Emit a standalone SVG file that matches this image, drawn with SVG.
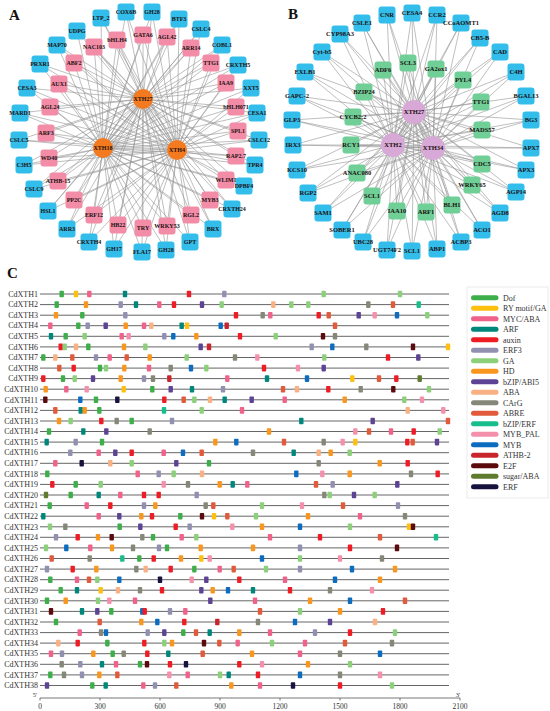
<svg xmlns="http://www.w3.org/2000/svg" xmlns:xlink="http://www.w3.org/1999/xlink" width="550" height="711" viewBox="0 0 550 711">
<style>
.pl{font-family:"Liberation Serif",serif;font-weight:bold;font-size:15px;fill:#111}
.ed{fill:none;stroke:#939393;stroke-width:0.6}
.nb{fill:#33bdea}.np{fill:#f38da7}.ng{fill:#6fcf97}
.hubA{fill:#f47a20}.hubB{fill:#d8a9d6}
.nt{font-family:"Liberation Serif",serif;font-weight:bold;font-size:6px;fill:#1a1010;text-anchor:middle}
.nt2{font-family:"Liberation Serif",serif;font-weight:bold;font-size:6.5px;fill:#1a1010;text-anchor:middle}
.ln{stroke:#555;stroke-width:0.9}
.rl{font-family:"Liberation Serif",serif;font-size:8px;fill:#333;text-anchor:end}
.lg{font-family:"Liberation Serif",serif;font-size:8px;fill:#333}
.ax{font-family:"Liberation Serif",serif;font-size:7.5px;fill:#333;text-anchor:middle}
.dof{fill:#3dae4a}.ry{fill:#fdc010}.myc{fill:#f0628a}.arf{fill:#00877c}.aux{fill:#ee1c25}.erf3{fill:#9290b1}.ga{fill:#8dd07b}.hd{fill:#f8961e}.abi{fill:#5c4393}.aba{fill:#f9b184}.carg{fill:#858878}.abre{fill:#e05a3b}.berf{fill:#18bd8c}.pal{fill:#f590ac}.myb{fill:#0c6dc0}.athb{fill:#c9252c}.e2f{fill:#5b0b0e}.sug{fill:#5f7b2e}.erf{fill:#17133f}
</style>
<defs>
<rect id="m" x="-2.2" y="-3.3" width="4.4" height="6.6" rx="0.8"/>
<rect id="bx" x="-8.5" y="-8.5" width="17" height="17" rx="3"/>
</defs>
<rect width="550" height="711" fill="#fff"/>
<text class="pl" x="9" y="20">A</text>
<text class="pl" x="288" y="19">B</text>
<text class="pl" x="7" y="278">C</text>

<g id="connectors">
<path class="ed" d="M143 99 103 148 177 150 143 99
M143 99 126 12M143 99 152 12M143 99 101 18M143 99 179 19M143 99 201 29M143 99 77 31M143 99 143 35M143 99 167 37M143 99 117 40M143 99 57 45M143 99 222 45M143 99 94 47M143 99 191 48M143 99 74 63M143 99 211 63M143 99 40 64M143 99 238 65M143 99 226 83M143 99 59 84M143 99 27 88M143 99 251 88M143 99 50 107M143 99 236 107M143 99 20 113M143 99 257 113M143 99 238 131M143 99 46 133M143 99 19 140M143 99 259 140M143 99 236 156M143 99 49 158M143 99 24 165M143 99 255 165M143 99 226 180M143 99 58 181M143 99 244 186M143 99 34 189M143 99 210 200M143 99 74 200M143 99 232 209M143 99 48 211M143 99 94 215M143 99 191 215M143 99 118 225M143 99 167 226M143 99 143 228M143 99 67 229M143 99 213 229M143 99 89 242M143 99 190 242M143 99 114 249M143 99 166 250M143 99 142 252
M103 148 126 12M103 148 152 12M103 148 101 18M103 148 179 19M103 148 201 29M103 148 77 31M103 148 143 35M103 148 167 37M103 148 117 40M103 148 57 45M103 148 222 45M103 148 94 47M103 148 191 48M103 148 74 63M103 148 211 63M103 148 40 64M103 148 238 65M103 148 226 83M103 148 59 84M103 148 27 88M103 148 251 88M103 148 50 107M103 148 236 107M103 148 20 113M103 148 257 113M103 148 238 131M103 148 46 133M103 148 19 140M103 148 259 140M103 148 236 156M103 148 49 158M103 148 24 165M103 148 255 165M103 148 226 180M103 148 58 181M103 148 244 186M103 148 34 189M103 148 210 200M103 148 74 200M103 148 232 209M103 148 48 211M103 148 94 215M103 148 191 215M103 148 118 225M103 148 167 226M103 148 143 228M103 148 67 229M103 148 213 229M103 148 89 242M103 148 190 242M103 148 114 249M103 148 166 250M103 148 142 252
M177 150 126 12M177 150 152 12M177 150 101 18M177 150 179 19M177 150 201 29M177 150 77 31M177 150 143 35M177 150 167 37M177 150 117 40M177 150 57 45M177 150 222 45M177 150 94 47M177 150 191 48M177 150 74 63M177 150 211 63M177 150 40 64M177 150 238 65M177 150 226 83M177 150 59 84M177 150 27 88M177 150 251 88M177 150 50 107M177 150 236 107M177 150 20 113M177 150 257 113M177 150 238 131M177 150 46 133M177 150 19 140M177 150 259 140M177 150 236 156M177 150 49 158M177 150 24 165M177 150 255 165M177 150 226 180M177 150 58 181M177 150 244 186M177 150 34 189M177 150 210 200M177 150 74 200M177 150 232 209M177 150 48 211M177 150 94 215M177 150 191 215M177 150 118 225M177 150 167 226M177 150 143 228M177 150 67 229M177 150 213 229M177 150 89 242M177 150 190 242M177 150 114 249M177 150 166 250M177 150 142 252"/>
<path class="ed" d="M414 112 393 145 433 148 414 112
M414 112 412 13M414 112 387 15M414 112 437 15M414 112 362 23M414 112 461 23M414 112 340 34M414 112 480 38M414 112 322 52M414 112 500 52M414 112 408 63M414 112 436 69M414 112 383 70M414 112 305 72M414 112 516 72M414 112 463 80M414 112 364 92M414 112 297 96M414 112 526 96M414 112 481 102M414 112 353 117M414 112 292 120M414 112 531 120M414 112 482 130M414 112 293 145M414 112 351 145M414 112 531 148M414 112 482 164M414 112 297 170M414 112 526 170M414 112 357 173M414 112 472 185M414 112 516 192M414 112 308 193M414 112 372 196M414 112 452 205M414 112 397 211M414 112 426 212M414 112 500 213M414 112 323 213M414 112 342 230M414 112 482 230M414 112 363 242M414 112 461 242M414 112 437 249M414 112 387 250M414 112 412 251
M393 145 412 13M393 145 387 15M393 145 437 15M393 145 362 23M393 145 461 23M393 145 340 34M393 145 480 38M393 145 322 52M393 145 500 52M393 145 408 63M393 145 436 69M393 145 383 70M393 145 305 72M393 145 516 72M393 145 463 80M393 145 364 92M393 145 297 96M393 145 526 96M393 145 481 102M393 145 353 117M393 145 292 120M393 145 531 120M393 145 482 130M393 145 293 145M393 145 351 145M393 145 531 148M393 145 482 164M393 145 297 170M393 145 526 170M393 145 357 173M393 145 472 185M393 145 516 192M393 145 308 193M393 145 372 196M393 145 452 205M393 145 397 211M393 145 426 212M393 145 500 213M393 145 323 213M393 145 342 230M393 145 482 230M393 145 363 242M393 145 461 242M393 145 437 249M393 145 387 250M393 145 412 251
M433 148 412 13M433 148 387 15M433 148 437 15M433 148 362 23M433 148 461 23M433 148 340 34M433 148 480 38M433 148 322 52M433 148 500 52M433 148 408 63M433 148 436 69M433 148 383 70M433 148 305 72M433 148 516 72M433 148 463 80M433 148 364 92M433 148 297 96M433 148 526 96M433 148 481 102M433 148 353 117M433 148 292 120M433 148 531 120M433 148 482 130M433 148 293 145M433 148 351 145M433 148 531 148M433 148 482 164M433 148 297 170M433 148 526 170M433 148 357 173M433 148 472 185M433 148 516 192M433 148 308 193M433 148 372 196M433 148 452 205M433 148 397 211M433 148 426 212M433 148 500 213M433 148 323 213M433 148 342 230M433 148 482 230M433 148 363 242M433 148 461 242M433 148 437 249M433 148 387 250M433 148 412 251"/>
</g>

<g id="panelA-nodes">
<g id="a-COX6B" transform="translate(126,12)"><use href="#bx" class="nb"/><text class="nt" y="2">COX6B</text></g>
<g id="a-GH28t" transform="translate(152,12)"><use href="#bx" class="nb"/><text class="nt" y="2">GH28</text></g>
<g id="a-LTP2" transform="translate(101,18)"><use href="#bx" class="nb"/><text class="nt" y="2">LTP_2</text></g>
<g id="a-BTF3" transform="translate(179,19)"><use href="#bx" class="nb"/><text class="nt" y="2">BTF3</text></g>
<g id="a-CSLC4" transform="translate(201,29)"><use href="#bx" class="nb"/><text class="nt" y="2">CSLC4</text></g>
<g id="a-UDPG" transform="translate(77,31)"><use href="#bx" class="nb"/><text class="nt" y="2">UDPG</text></g>
<g id="a-GATA6" transform="translate(143,35)"><use href="#bx" class="np"/><text class="nt" y="2">GATA6</text></g>
<g id="a-AGL42" transform="translate(167,37)"><use href="#bx" class="np"/><text class="nt" y="2">AGL42</text></g>
<g id="a-bHLH4" transform="translate(117,40)"><use href="#bx" class="np"/><text class="nt" y="2">bHLH4</text></g>
<g id="a-MAP70" transform="translate(57,45)"><use href="#bx" class="nb"/><text class="nt" y="2">MAP70</text></g>
<g id="a-COBL1" transform="translate(222,45)"><use href="#bx" class="nb"/><text class="nt" y="2">COBL1</text></g>
<g id="a-NAC103" transform="translate(94,47)"><use href="#bx" class="np"/><text class="nt" y="2">NAC103</text></g>
<g id="a-ARR14" transform="translate(191,48)"><use href="#bx" class="np"/><text class="nt" y="2">ARR14</text></g>
<g id="a-ABF2" transform="translate(74,63)"><use href="#bx" class="np"/><text class="nt" y="2">ABF2</text></g>
<g id="a-TTG1" transform="translate(211,63)"><use href="#bx" class="np"/><text class="nt" y="2">TTG1</text></g>
<g id="a-PRXR1" transform="translate(40,64)"><use href="#bx" class="nb"/><text class="nt" y="2">PRXR1</text></g>
<g id="a-CRXTH5" transform="translate(238,65)"><use href="#bx" class="nb"/><text class="nt" y="2">CRXTH5</text></g>
<g id="a-IAA9" transform="translate(226,83)"><use href="#bx" class="np"/><text class="nt" y="2">IAA9</text></g>
<g id="a-AUX1" transform="translate(59,84)"><use href="#bx" class="np"/><text class="nt" y="2">AUX1</text></g>
<g id="a-CESA3" transform="translate(27,88)"><use href="#bx" class="nb"/><text class="nt" y="2">CESA3</text></g>
<g id="a-XXT5" transform="translate(251,88)"><use href="#bx" class="nb"/><text class="nt" y="2">XXT5</text></g>
<g id="a-AGL24" transform="translate(50,107)"><use href="#bx" class="np"/><text class="nt" y="2">AGL24</text></g>
<g id="a-bHLH071" transform="translate(236,107)"><use href="#bx" class="np"/><text class="nt" y="2">bHLH071</text></g>
<g id="a-MARD1" transform="translate(20,113)"><use href="#bx" class="nb"/><text class="nt" y="2">MARD1</text></g>
<g id="a-CESA1" transform="translate(257,113)"><use href="#bx" class="nb"/><text class="nt" y="2">CESA1</text></g>
<g id="a-SPL1" transform="translate(238,131)"><use href="#bx" class="np"/><text class="nt" y="2">SPL1</text></g>
<g id="a-ARF3" transform="translate(46,133)"><use href="#bx" class="np"/><text class="nt" y="2">ARF3</text></g>
<g id="a-CSLC5" transform="translate(19,140)"><use href="#bx" class="nb"/><text class="nt" y="2">CSLC5</text></g>
<g id="a-CSLC12" transform="translate(259,140)"><use href="#bx" class="nb"/><text class="nt" y="2">CSLC12</text></g>
<g id="a-RAP27" transform="translate(236,156)"><use href="#bx" class="np"/><text class="nt" y="2">RAP2.7</text></g>
<g id="a-WD40" transform="translate(49,158)"><use href="#bx" class="np"/><text class="nt" y="2">WD40</text></g>
<g id="a-C3H5" transform="translate(24,165)"><use href="#bx" class="nb"/><text class="nt" y="2">C3H5</text></g>
<g id="a-TPR4" transform="translate(255,165)"><use href="#bx" class="nb"/><text class="nt" y="2">TPR4</text></g>
<g id="a-WLIM1" transform="translate(226,180)"><use href="#bx" class="np"/><text class="nt" y="2">WLIM1</text></g>
<g id="a-ATHB15" transform="translate(58,181)"><use href="#bx" class="np"/><text class="nt" y="2">ATHB-15</text></g>
<g id="a-DPBF4" transform="translate(244,186)"><use href="#bx" class="nb"/><text class="nt" y="2">DPBF4</text></g>
<g id="a-CSLC9" transform="translate(34,189)"><use href="#bx" class="nb"/><text class="nt" y="2">CSLC9</text></g>
<g id="a-MYB3" transform="translate(210,200)"><use href="#bx" class="np"/><text class="nt" y="2">MYB3</text></g>
<g id="a-PP2C" transform="translate(74,200)"><use href="#bx" class="np"/><text class="nt" y="2">PP2C</text></g>
<g id="a-CRXTH24" transform="translate(232,209)"><use href="#bx" class="nb"/><text class="nt" y="2">CRXTH24</text></g>
<g id="a-HSL1" transform="translate(48,211)"><use href="#bx" class="nb"/><text class="nt" y="2">HSL1</text></g>
<g id="a-ERF12" transform="translate(94,215)"><use href="#bx" class="np"/><text class="nt" y="2">ERF12</text></g>
<g id="a-RGL2" transform="translate(191,215)"><use href="#bx" class="np"/><text class="nt" y="2">RGL2</text></g>
<g id="a-HB22" transform="translate(118,225)"><use href="#bx" class="np"/><text class="nt" y="2">HB22</text></g>
<g id="a-WRKY53" transform="translate(167,226)"><use href="#bx" class="np"/><text class="nt" y="2">WRKY53</text></g>
<g id="a-TRY" transform="translate(143,228)"><use href="#bx" class="np"/><text class="nt" y="2">TRY</text></g>
<g id="a-ARR3" transform="translate(67,229)"><use href="#bx" class="nb"/><text class="nt" y="2">ARR3</text></g>
<g id="a-BRX" transform="translate(213,229)"><use href="#bx" class="nb"/><text class="nt" y="2">BRX</text></g>
<g id="a-CRXTH4" transform="translate(89,242)"><use href="#bx" class="nb"/><text class="nt" y="2">CRXTH4</text></g>
<g id="a-GPT" transform="translate(190,242)"><use href="#bx" class="nb"/><text class="nt" y="2">GPT</text></g>
<g id="a-GH17" transform="translate(114,249)"><use href="#bx" class="nb"/><text class="nt" y="2">GH17</text></g>
<g id="a-GH28b" transform="translate(166,250)"><use href="#bx" class="nb"/><text class="nt" y="2">GH28</text></g>
<g id="a-FLA17" transform="translate(142,252)"><use href="#bx" class="nb"/><text class="nt" y="2">FLA17</text></g>
<g id="a-XTH27" transform="translate(143,99)"><circle r="10" class="hubA"/><text class="nt" y="2">XTH27</text></g>
<g id="a-XTH18" transform="translate(103,148)"><circle r="10" class="hubA"/><text class="nt" y="2">XTH18</text></g>
<g id="a-XTH4" transform="translate(177,150)"><circle r="10" class="hubA"/><text class="nt" y="2">XTH4</text></g>
</g>

<g id="panelB-nodes">
<g id="b-CESA4" transform="translate(412,13)"><use href="#bx" class="nb"/><text class="nt2" y="2.2">CESA4</text></g>
<g id="b-CNR" transform="translate(387,15)"><use href="#bx" class="nb"/><text class="nt2" y="2.2">CNR</text></g>
<g id="b-CCR2" transform="translate(437,15)"><use href="#bx" class="nb"/><text class="nt2" y="2.2">CCR2</text></g>
<g id="b-CSLE1" transform="translate(362,23)"><use href="#bx" class="nb"/><text class="nt2" y="2.2">CSLE1</text></g>
<g id="b-CCoAOMT1" transform="translate(461,23)"><use href="#bx" class="nb"/><text class="nt2" y="2.2">CCoAOMT1</text></g>
<g id="b-CYP98A3" transform="translate(340,34)"><use href="#bx" class="nb"/><text class="nt2" y="2.2">CYP98A3</text></g>
<g id="b-CB5B" transform="translate(480,38)"><use href="#bx" class="nb"/><text class="nt2" y="2.2">CB5-B</text></g>
<g id="b-Cytb5" transform="translate(322,52)"><use href="#bx" class="nb"/><text class="nt2" y="2.2">Cyt-b5</text></g>
<g id="b-CAD" transform="translate(500,52)"><use href="#bx" class="nb"/><text class="nt2" y="2.2">CAD</text></g>
<g id="b-SCL3" transform="translate(408,63)"><use href="#bx" class="ng"/><text class="nt2" y="2.2">SCL3</text></g>
<g id="b-GA2ox1" transform="translate(436,69)"><use href="#bx" class="ng"/><text class="nt2" y="2.2">GA2ox1</text></g>
<g id="b-ADF6" transform="translate(383,70)"><use href="#bx" class="ng"/><text class="nt2" y="2.2">ADF6</text></g>
<g id="b-EXLB1" transform="translate(305,72)"><use href="#bx" class="nb"/><text class="nt2" y="2.2">EXLB1</text></g>
<g id="b-C4H" transform="translate(516,72)"><use href="#bx" class="nb"/><text class="nt2" y="2.2">C4H</text></g>
<g id="b-PYL4" transform="translate(463,80)"><use href="#bx" class="ng"/><text class="nt2" y="2.2">PYL4</text></g>
<g id="b-BZIP24" transform="translate(364,92)"><use href="#bx" class="ng"/><text class="nt2" y="2.2">BZIP24</text></g>
<g id="b-GAPC2" transform="translate(297,96)"><use href="#bx" class="nb"/><text class="nt2" y="2.2">GAPC-2</text></g>
<g id="b-BGAL13" transform="translate(526,96)"><use href="#bx" class="nb"/><text class="nt2" y="2.2">BGAL13</text></g>
<g id="b-TTG1" transform="translate(481,102)"><use href="#bx" class="ng"/><text class="nt2" y="2.2">TTG1</text></g>
<g id="b-CYCB22" transform="translate(353,117)"><use href="#bx" class="ng"/><text class="nt2" y="2.2">CYCB2;2</text></g>
<g id="b-GLP3" transform="translate(292,120)"><use href="#bx" class="nb"/><text class="nt2" y="2.2">GLP3</text></g>
<g id="b-BG3" transform="translate(531,120)"><use href="#bx" class="nb"/><text class="nt2" y="2.2">BG3</text></g>
<g id="b-MADS57" transform="translate(482,130)"><use href="#bx" class="ng"/><text class="nt2" y="2.2">MADS57</text></g>
<g id="b-IRX3" transform="translate(293,145)"><use href="#bx" class="nb"/><text class="nt2" y="2.2">IRX3</text></g>
<g id="b-RCY1" transform="translate(351,145)"><use href="#bx" class="ng"/><text class="nt2" y="2.2">RCY1</text></g>
<g id="b-APX7" transform="translate(531,148)"><use href="#bx" class="nb"/><text class="nt2" y="2.2">APX7</text></g>
<g id="b-CDC5" transform="translate(482,164)"><use href="#bx" class="ng"/><text class="nt2" y="2.2">CDC5</text></g>
<g id="b-KCS10" transform="translate(297,170)"><use href="#bx" class="nb"/><text class="nt2" y="2.2">KCS10</text></g>
<g id="b-APX3" transform="translate(526,170)"><use href="#bx" class="nb"/><text class="nt2" y="2.2">APX3</text></g>
<g id="b-ANAC080" transform="translate(357,173)"><use href="#bx" class="ng"/><text class="nt2" y="2.2">ANAC080</text></g>
<g id="b-WRKY65" transform="translate(472,185)"><use href="#bx" class="ng"/><text class="nt2" y="2.2">WRKY65</text></g>
<g id="b-AGP14" transform="translate(516,192)"><use href="#bx" class="nb"/><text class="nt2" y="2.2">AGP14</text></g>
<g id="b-RGP2" transform="translate(308,193)"><use href="#bx" class="nb"/><text class="nt2" y="2.2">RGP2</text></g>
<g id="b-SCL1g" transform="translate(372,196)"><use href="#bx" class="ng"/><text class="nt2" y="2.2">SCL1</text></g>
<g id="b-BLH1" transform="translate(452,205)"><use href="#bx" class="ng"/><text class="nt2" y="2.2">BLH1</text></g>
<g id="b-IAA10" transform="translate(397,211)"><use href="#bx" class="ng"/><text class="nt2" y="2.2">IAA10</text></g>
<g id="b-ARF1" transform="translate(426,212)"><use href="#bx" class="ng"/><text class="nt2" y="2.2">ARF1</text></g>
<g id="b-AGD8" transform="translate(500,213)"><use href="#bx" class="nb"/><text class="nt2" y="2.2">AGD8</text></g>
<g id="b-SAM1" transform="translate(323,213)"><use href="#bx" class="nb"/><text class="nt2" y="2.2">SAM1</text></g>
<g id="b-SOBER1" transform="translate(342,230)"><use href="#bx" class="nb"/><text class="nt2" y="2.2">SOBER1</text></g>
<g id="b-ACO1" transform="translate(482,230)"><use href="#bx" class="nb"/><text class="nt2" y="2.2">ACO1</text></g>
<g id="b-UBC28" transform="translate(363,242)"><use href="#bx" class="nb"/><text class="nt2" y="2.2">UBC28</text></g>
<g id="b-ACBP3" transform="translate(461,242)"><use href="#bx" class="nb"/><text class="nt2" y="2.2">ACBP3</text></g>
<g id="b-ABP1" transform="translate(437,249)"><use href="#bx" class="nb"/><text class="nt2" y="2.2">ABP1</text></g>
<g id="b-UGT74F2" transform="translate(387,250)"><use href="#bx" class="nb"/><text class="nt2" y="2.2">UGT74F2</text></g>
<g id="b-SCL1b" transform="translate(412,251)"><use href="#bx" class="nb"/><text class="nt2" y="2.2">SCL1</text></g>
<g id="b-XTH27" transform="translate(414,112)"><circle r="12" class="hubB"/><text class="nt2" y="2.2">XTH27</text></g>
<g id="b-XTH2" transform="translate(393,145)"><circle r="12" class="hubB"/><text class="nt2" y="2.2">XTH2</text></g>
<g id="b-XTH34" transform="translate(433,148)"><circle r="12" class="hubB"/><text class="nt2" y="2.2">XTH34</text></g>
</g>

<g id="panelC">
<g id="r1" transform="translate(0,294)"><line class="ln" x1="40" x2="449"/><text class="rl" x="38" y="2.7">CdXTH1</text><use href="#m" x="61.7" class="dof"/><use href="#m" x="76" class="ry"/><use href="#m" x="89.3" class="myc"/><use href="#m" x="125" class="arf"/><use href="#m" x="189" class="aux"/><use href="#m" x="224.3" class="erf3"/><use href="#m" x="323.7" class="ga"/><use href="#m" x="400" class="ga"/></g>
<g id="r2" transform="translate(0,304.6)"><line class="ln" x1="40" x2="449"/><text class="rl" x="38" y="2.7">CdXTH2</text><use href="#m" x="56.7" class="dof"/><use href="#m" x="86" class="hd"/><use href="#m" x="120.7" class="erf3"/><use href="#m" x="136" class="arf"/><use href="#m" x="159.3" class="myc"/><use href="#m" x="174" class="aux"/><use href="#m" x="202" class="abi"/><use href="#m" x="221.7" class="ga"/><use href="#m" x="273.3" class="aba"/><use href="#m" x="291.3" class="ga"/><use href="#m" x="308.3" class="ga"/><use href="#m" x="368.3" class="carg"/><use href="#m" x="393" class="abre"/><use href="#m" x="418.7" class="berf"/></g>
<g id="r3" transform="translate(0,315.2)"><line class="ln" x1="40" x2="449"/><text class="rl" x="38" y="2.7">CdXTH3</text><use href="#m" x="56" class="hd"/><use href="#m" x="82.3" class="dof"/><use href="#m" x="125.3" class="erf3"/><use href="#m" x="236" class="aux"/><use href="#m" x="262.7" class="carg"/><use href="#m" x="270.3" class="myc"/><use href="#m" x="318.7" class="aux"/><use href="#m" x="328.7" class="abre"/><use href="#m" x="358.7" class="abi"/><use href="#m" x="374.7" class="pal"/><use href="#m" x="397" class="myb"/><use href="#m" x="427.3" class="ga"/></g>
<g id="r4" transform="translate(0,325.7)"><line class="ln" x1="40" x2="449"/><text class="rl" x="38" y="2.7">CdXTH4</text><use href="#m" x="50.3" class="myc"/><use href="#m" x="78.3" class="dof"/><use href="#m" x="87.7" class="erf3"/><use href="#m" x="105.7" class="abi"/><use href="#m" x="125.7" class="hd"/><use href="#m" x="144" class="myc"/><use href="#m" x="151.3" class="aba"/><use href="#m" x="181.7" class="arf"/><use href="#m" x="187" class="ry"/><use href="#m" x="220.7" class="myb"/><use href="#m" x="226.7" class="athb"/><use href="#m" x="335" class="abre"/></g>
<g id="r5" transform="translate(0,336.3)"><line class="ln" x1="40" x2="449"/><text class="rl" x="38" y="2.7">CdXTH5</text><use href="#m" x="51" class="arf"/><use href="#m" x="65.7" class="dof"/><use href="#m" x="84.7" class="ga"/><use href="#m" x="121.7" class="myc"/><use href="#m" x="128.7" class="pal"/><use href="#m" x="164.3" class="erf3"/><use href="#m" x="173.3" class="myb"/><use href="#m" x="196.3" class="hd"/><use href="#m" x="240" class="aux"/><use href="#m" x="275.7" class="ga"/><use href="#m" x="323" class="e2f"/><use href="#m" x="335" class="carg"/></g>
<g id="r6" transform="translate(0,346.9)"><line class="ln" x1="40" x2="449"/><text class="rl" x="38" y="2.7">CdXTH6</text><use href="#m" x="60.7" class="aux"/><use href="#m" x="64.7" class="ga"/><use href="#m" x="76" class="aba"/><use href="#m" x="88.3" class="dof"/><use href="#m" x="124" class="hd"/><use href="#m" x="145.3" class="ga"/><use href="#m" x="200.7" class="abi"/><use href="#m" x="209" class="athb"/><use href="#m" x="311.7" class="erf3"/><use href="#m" x="332.3" class="myb"/><use href="#m" x="366.3" class="carg"/><use href="#m" x="413" class="e2f"/><use href="#m" x="448" class="ry"/></g>
<g id="r7" transform="translate(0,357.5)"><line class="ln" x1="40" x2="449"/><text class="rl" x="38" y="2.7">CdXTH7</text><use href="#m" x="43.3" class="dof"/><use href="#m" x="55.3" class="aba"/><use href="#m" x="72.3" class="abre"/><use href="#m" x="96" class="erf3"/><use href="#m" x="109.7" class="myc"/><use href="#m" x="126.7" class="abre"/><use href="#m" x="149.7" class="hd"/><use href="#m" x="186.7" class="ga"/><use href="#m" x="235" class="carg"/><use href="#m" x="257.3" class="pal"/><use href="#m" x="324.3" class="ga"/><use href="#m" x="388" class="aux"/><use href="#m" x="418.3" class="abi"/></g>
<g id="r8" transform="translate(0,368.1)"><line class="ln" x1="40" x2="449"/><text class="rl" x="38" y="2.7">CdXTH8</text><use href="#m" x="59.3" class="abre"/><use href="#m" x="73.7" class="aux"/><use href="#m" x="100" class="dof"/><use href="#m" x="106" class="ga"/><use href="#m" x="124.3" class="hd"/><use href="#m" x="149" class="myc"/><use href="#m" x="170.7" class="carg"/><use href="#m" x="191" class="myb"/><use href="#m" x="206.3" class="ga"/><use href="#m" x="264" class="aux"/><use href="#m" x="298" class="pal"/><use href="#m" x="323.7" class="abi"/></g>
<g id="r9" transform="translate(0,378.6)"><line class="ln" x1="40" x2="449"/><text class="rl" x="38" y="2.7">CdXTH9</text><use href="#m" x="43.3" class="aux"/><use href="#m" x="63" class="dof"/><use href="#m" x="74.7" class="ga"/><use href="#m" x="93" class="abi"/><use href="#m" x="120.7" class="hd"/><use href="#m" x="144" class="erf3"/><use href="#m" x="153" class="carg"/><use href="#m" x="169.3" class="athb"/><use href="#m" x="227.3" class="myc"/><use href="#m" x="267" class="arf"/><use href="#m" x="307" class="myb"/><use href="#m" x="352.3" class="ry"/><use href="#m" x="379" class="abre"/><use href="#m" x="396.3" class="aux"/><use href="#m" x="419.7" class="sug"/></g>
<g id="r10" transform="translate(0,389.2)"><line class="ln" x1="40" x2="449"/><text class="rl" x="38" y="2.7">CdXTH10</text><use href="#m" x="45.7" class="hd"/><use href="#m" x="66.3" class="myc"/><use href="#m" x="86.7" class="pal"/><use href="#m" x="123.7" class="ry"/><use href="#m" x="152.3" class="dof"/><use href="#m" x="170.7" class="abi"/><use href="#m" x="192" class="arf"/><use href="#m" x="223" class="erf3"/><use href="#m" x="283" class="abre"/><use href="#m" x="297" class="aba"/><use href="#m" x="328.3" class="aux"/><use href="#m" x="360.7" class="carg"/><use href="#m" x="393.3" class="e2f"/><use href="#m" x="429" class="ga"/></g>
<g id="r11" transform="translate(0,399.8)"><line class="ln" x1="40" x2="449"/><text class="rl" x="38" y="2.7">CdXTH11</text><use href="#m" x="45.3" class="e2f"/><use href="#m" x="80.3" class="myb"/><use href="#m" x="96" class="dof"/><use href="#m" x="117.3" class="erf"/><use href="#m" x="164.3" class="aux"/><use href="#m" x="183.7" class="abre"/><use href="#m" x="194.3" class="ga"/><use href="#m" x="210" class="aba"/><use href="#m" x="224.7" class="arf"/><use href="#m" x="251.7" class="abi"/><use href="#m" x="284.7" class="myc"/><use href="#m" x="344.7" class="hd"/><use href="#m" x="404.3" class="ga"/><use href="#m" x="422" class="pal"/></g>
<g id="r12" transform="translate(0,410.4)"><line class="ln" x1="40" x2="449"/><text class="rl" x="38" y="2.7">CdXTH12</text><use href="#m" x="55.3" class="abre"/><use href="#m" x="80.7" class="arf"/><use href="#m" x="84.7" class="hd"/><use href="#m" x="99.3" class="dof"/><use href="#m" x="164" class="berf"/><use href="#m" x="201.7" class="ga"/><use href="#m" x="242" class="myc"/><use href="#m" x="407.7" class="aba"/><use href="#m" x="443.3" class="pal"/></g>
<g id="r13" transform="translate(0,421)"><line class="ln" x1="40" x2="449"/><text class="rl" x="38" y="2.7">CdXTH13</text><use href="#m" x="59" class="hd"/><use href="#m" x="70.7" class="ga"/><use href="#m" x="101.3" class="aux"/><use href="#m" x="116.7" class="carg"/><use href="#m" x="131.7" class="dof"/><use href="#m" x="172" class="erf3"/><use href="#m" x="301.3" class="arf"/><use href="#m" x="372.7" class="abi"/><use href="#m" x="448" class="abre"/></g>
<g id="r14" transform="translate(0,431.5)"><line class="ln" x1="40" x2="449"/><text class="rl" x="38" y="2.7">CdXTH14</text><use href="#m" x="49" class="dof"/><use href="#m" x="83.3" class="arf"/><use href="#m" x="106.3" class="abi"/><use href="#m" x="149.7" class="carg"/><use href="#m" x="269" class="hd"/><use href="#m" x="355.3" class="pal"/><use href="#m" x="369" class="abre"/><use href="#m" x="391" class="myc"/><use href="#m" x="413.7" class="aux"/><use href="#m" x="439.7" class="ga"/></g>
<g id="r15" transform="translate(0,442.1)"><line class="ln" x1="40" x2="449"/><text class="rl" x="38" y="2.7">CdXTH15</text><use href="#m" x="46.7" class="arf"/><use href="#m" x="75.7" class="erf3"/><use href="#m" x="102" class="dof"/><use href="#m" x="215.3" class="hd"/><use href="#m" x="236.3" class="myb"/><use href="#m" x="284" class="abre"/><use href="#m" x="323.7" class="carg"/><use href="#m" x="342.7" class="pal"/><use href="#m" x="355.3" class="ry"/><use href="#m" x="407.3" class="aux"/><use href="#m" x="412.7" class="abre"/><use href="#m" x="437" class="abi"/></g>
<g id="r16" transform="translate(0,452.7)"><line class="ln" x1="40" x2="449"/><text class="rl" x="38" y="2.7">CdXTH16</text><use href="#m" x="70.3" class="erf3"/><use href="#m" x="98.7" class="myc"/><use href="#m" x="115.3" class="abi"/><use href="#m" x="131.7" class="aux"/><use href="#m" x="163.7" class="myc"/><use href="#m" x="183" class="myb"/><use href="#m" x="201.7" class="abre"/><use href="#m" x="253" class="carg"/><use href="#m" x="293.7" class="arf"/><use href="#m" x="318.7" class="aba"/><use href="#m" x="330.7" class="hd"/><use href="#m" x="349.7" class="ga"/></g>
<g id="r17" transform="translate(0,463.3)"><line class="ln" x1="40" x2="449"/><text class="rl" x="38" y="2.7">CdXTH17</text><use href="#m" x="55.3" class="myc"/><use href="#m" x="81.7" class="erf"/><use href="#m" x="110.3" class="aba"/><use href="#m" x="131.7" class="ga"/><use href="#m" x="176.3" class="abi"/><use href="#m" x="209" class="dof"/><use href="#m" x="318.7" class="carg"/><use href="#m" x="379.7" class="hd"/><use href="#m" x="407.7" class="aux"/></g>
<g id="r18" transform="translate(0,473.9)"><line class="ln" x1="40" x2="449"/><text class="rl" x="38" y="2.7">CdXTH18</text><use href="#m" x="47.3" class="dof"/><use href="#m" x="137.7" class="myc"/><use href="#m" x="158.7" class="erf3"/><use href="#m" x="173.7" class="ga"/><use href="#m" x="202" class="aba"/><use href="#m" x="296.3" class="myb"/><use href="#m" x="322.3" class="pal"/><use href="#m" x="349.7" class="hd"/><use href="#m" x="411" class="carg"/><use href="#m" x="437.7" class="aux"/></g>
<g id="r19" transform="translate(0,484.4)"><line class="ln" x1="40" x2="449"/><text class="rl" x="38" y="2.7">CdXTH19</text><use href="#m" x="52.3" class="aux"/><use href="#m" x="75.7" class="dof"/><use href="#m" x="100.7" class="ga"/><use href="#m" x="163.7" class="pal"/><use href="#m" x="188" class="carg"/><use href="#m" x="219.7" class="hd"/><use href="#m" x="232.7" class="arf"/><use href="#m" x="247.3" class="myc"/><use href="#m" x="316" class="abre"/><use href="#m" x="332.7" class="erf3"/><use href="#m" x="397.3" class="abi"/></g>
<g id="r20" transform="translate(0,495)"><line class="ln" x1="40" x2="449"/><text class="rl" x="38" y="2.7">CdXTH20</text><use href="#m" x="46" class="sug"/><use href="#m" x="70.7" class="dof"/><use href="#m" x="98.7" class="arf"/><use href="#m" x="120.3" class="myc"/><use href="#m" x="144" class="aux"/><use href="#m" x="158.7" class="aux"/><use href="#m" x="196.7" class="erf3"/><use href="#m" x="324.3" class="carg"/><use href="#m" x="329.7" class="ga"/><use href="#m" x="354" class="abi"/><use href="#m" x="374.7" class="ga"/></g>
<g id="r21" transform="translate(0,505.6)"><line class="ln" x1="40" x2="449"/><text class="rl" x="38" y="2.7">CdXTH21</text><use href="#m" x="49.7" class="dof"/><use href="#m" x="86.7" class="myc"/><use href="#m" x="110.3" class="aux"/><use href="#m" x="144" class="erf3"/><use href="#m" x="155.3" class="hd"/><use href="#m" x="205.7" class="carg"/><use href="#m" x="213.3" class="abre"/><use href="#m" x="262" class="ga"/><use href="#m" x="302" class="pal"/><use href="#m" x="343" class="abre"/><use href="#m" x="398" class="erf3"/></g>
<g id="r22" transform="translate(0,516.2)"><line class="ln" x1="40" x2="449"/><text class="rl" x="38" y="2.7">CdXTH22</text><use href="#m" x="43.3" class="arf"/><use href="#m" x="98.7" class="myc"/><use href="#m" x="119.3" class="abi"/><use href="#m" x="141.3" class="hd"/><use href="#m" x="152" class="aux"/><use href="#m" x="180.3" class="dof"/><use href="#m" x="202" class="e2f"/><use href="#m" x="214" class="ry"/><use href="#m" x="227.3" class="abre"/><use href="#m" x="256" class="ga"/><use href="#m" x="308" class="hd"/><use href="#m" x="360" class="myc"/><use href="#m" x="405" class="carg"/></g>
<g id="r23" transform="translate(0,526.8)"><line class="ln" x1="40" x2="449"/><text class="rl" x="38" y="2.7">CdXTH23</text><use href="#m" x="50" class="ga"/><use href="#m" x="65.3" class="carg"/><use href="#m" x="119.7" class="dof"/><use href="#m" x="140.3" class="abi"/><use href="#m" x="175.7" class="aux"/><use href="#m" x="189.7" class="erf3"/><use href="#m" x="232.3" class="pal"/><use href="#m" x="262" class="hd"/><use href="#m" x="300" class="myb"/><use href="#m" x="350" class="ga"/><use href="#m" x="409" class="ry"/><use href="#m" x="413" class="e2f"/></g>
<g id="r24" transform="translate(0,537.3)"><line class="ln" x1="40" x2="449"/><text class="rl" x="38" y="2.7">CdXTH24</text><use href="#m" x="56" class="erf3"/><use href="#m" x="77.7" class="aux"/><use href="#m" x="98" class="hd"/><use href="#m" x="111.7" class="e2f"/><use href="#m" x="142.3" class="carg"/><use href="#m" x="153" class="dof"/><use href="#m" x="181.7" class="myc"/><use href="#m" x="196.3" class="ga"/><use href="#m" x="270" class="myc"/><use href="#m" x="320" class="aux"/><use href="#m" x="380" class="abre"/><use href="#m" x="436" class="berf"/></g>
<g id="r25" transform="translate(0,547.9)"><line class="ln" x1="40" x2="449"/><text class="rl" x="38" y="2.7">CdXTH25</text><use href="#m" x="46" class="ga"/><use href="#m" x="66.3" class="myb"/><use href="#m" x="90.3" class="myc"/><use href="#m" x="112" class="hd"/><use href="#m" x="133" class="carg"/><use href="#m" x="159" class="erf3"/><use href="#m" x="167" class="dof"/><use href="#m" x="200.7" class="hd"/><use href="#m" x="253" class="hd"/><use href="#m" x="300" class="erf3"/><use href="#m" x="350" class="aux"/><use href="#m" x="397" class="e2f"/></g>
<g id="r26" transform="translate(0,558.5)"><line class="ln" x1="40" x2="449"/><text class="rl" x="38" y="2.7">CdXTH26</text><use href="#m" x="51.7" class="abre"/><use href="#m" x="89.7" class="carg"/><use href="#m" x="122.3" class="berf"/><use href="#m" x="139.3" class="dof"/><use href="#m" x="153.7" class="aux"/><use href="#m" x="181" class="hd"/><use href="#m" x="201.3" class="ry"/><use href="#m" x="209.7" class="pal"/><use href="#m" x="262" class="myb"/><use href="#m" x="300" class="ga"/><use href="#m" x="340" class="pal"/><use href="#m" x="382" class="carg"/></g>
<g id="r27" transform="translate(0,569.1)"><line class="ln" x1="40" x2="449"/><text class="rl" x="38" y="2.7">CdXTH27</text><use href="#m" x="47" class="erf3"/><use href="#m" x="72.7" class="aux"/><use href="#m" x="96.3" class="hd"/><use href="#m" x="136.3" class="carg"/><use href="#m" x="145.7" class="aba"/><use href="#m" x="170.7" class="aux"/><use href="#m" x="194.3" class="dof"/><use href="#m" x="219.7" class="myc"/><use href="#m" x="233.7" class="abre"/><use href="#m" x="266" class="ga"/><use href="#m" x="300" class="erf3"/><use href="#m" x="352" class="myb"/><use href="#m" x="395" class="hd"/></g>
<g id="r28" transform="translate(0,579.7)"><line class="ln" x1="40" x2="449"/><text class="rl" x="38" y="2.7">CdXTH28</text><use href="#m" x="50.3" class="dof"/><use href="#m" x="77" class="myc"/><use href="#m" x="89" class="abre"/><use href="#m" x="97.3" class="ga"/><use href="#m" x="119.3" class="myb"/><use href="#m" x="160" class="erf"/><use href="#m" x="191.7" class="pal"/><use href="#m" x="206.3" class="abi"/><use href="#m" x="239.3" class="aux"/><use href="#m" x="285" class="myc"/><use href="#m" x="335" class="myb"/><use href="#m" x="380" class="hd"/></g>
<g id="r29" transform="translate(0,590.2)"><line class="ln" x1="40" x2="449"/><text class="rl" x="38" y="2.7">CdXTH29</text><use href="#m" x="60.7" class="dof"/><use href="#m" x="77" class="arf"/><use href="#m" x="100.7" class="ry"/><use href="#m" x="118" class="aba"/><use href="#m" x="140" class="carg"/><use href="#m" x="162" class="aux"/><use href="#m" x="201.3" class="abi"/><use href="#m" x="212.7" class="hd"/><use href="#m" x="228" class="myb"/><use href="#m" x="253" class="arf"/><use href="#m" x="290" class="aux"/><use href="#m" x="330" class="carg"/><use href="#m" x="372" class="pal"/></g>
<g id="r30" transform="translate(0,600.8)"><line class="ln" x1="40" x2="449"/><text class="rl" x="38" y="2.7">CdXTH30</text><use href="#m" x="47" class="dof"/><use href="#m" x="65.7" class="hd"/><use href="#m" x="98" class="ga"/><use href="#m" x="109.3" class="pal"/><use href="#m" x="135" class="myc"/><use href="#m" x="210.3" class="abi"/><use href="#m" x="255" class="myc"/><use href="#m" x="310" class="hd"/><use href="#m" x="350" class="myb"/><use href="#m" x="405" class="abre"/></g>
<g id="r31" transform="translate(0,611.4)"><line class="ln" x1="40" x2="449"/><text class="rl" x="38" y="2.7">CdXTH31</text><use href="#m" x="51" class="e2f"/><use href="#m" x="82" class="arf"/><use href="#m" x="97.3" class="abi"/><use href="#m" x="111.3" class="dof"/><use href="#m" x="142.3" class="myb"/><use href="#m" x="144.7" class="aux"/><use href="#m" x="170" class="erf3"/><use href="#m" x="185.3" class="myc"/><use href="#m" x="260" class="abre"/><use href="#m" x="300" class="ga"/><use href="#m" x="340" class="hd"/><use href="#m" x="383" class="aux"/></g>
<g id="r32" transform="translate(0,622)"><line class="ln" x1="40" x2="449"/><text class="rl" x="38" y="2.7">CdXTH32</text><use href="#m" x="56" class="dof"/><use href="#m" x="99.7" class="abre"/><use href="#m" x="141.3" class="hd"/><use href="#m" x="157.3" class="myb"/><use href="#m" x="184.3" class="aux"/><use href="#m" x="217.3" class="athb"/><use href="#m" x="258" class="carg"/><use href="#m" x="295" class="myb"/><use href="#m" x="330" class="abi"/><use href="#m" x="375" class="aba"/></g>
<g id="r33" transform="translate(0,632.6)"><line class="ln" x1="40" x2="449"/><text class="rl" x="38" y="2.7">CdXTH33</text><use href="#m" x="79.7" class="myc"/><use href="#m" x="101" class="carg"/><use href="#m" x="106" class="myb"/><use href="#m" x="147.7" class="erf3"/><use href="#m" x="164.3" class="abi"/><use href="#m" x="183.3" class="dof"/><use href="#m" x="196" class="abre"/><use href="#m" x="209.7" class="arf"/><use href="#m" x="239.3" class="hd"/><use href="#m" x="270" class="myc"/><use href="#m" x="315" class="erf3"/><use href="#m" x="350" class="aux"/><use href="#m" x="395" class="ga"/></g>
<g id="r34" transform="translate(0,643.1)"><line class="ln" x1="40" x2="449"/><text class="rl" x="38" y="2.7">CdXTH34</text><use href="#m" x="58.3" class="aba"/><use href="#m" x="77.7" class="aux"/><use href="#m" x="107.3" class="dof"/><use href="#m" x="144.3" class="aux"/><use href="#m" x="164.3" class="ga"/><use href="#m" x="172" class="hd"/><use href="#m" x="204" class="e2f"/><use href="#m" x="219.3" class="abre"/><use href="#m" x="237.7" class="myc"/><use href="#m" x="272" class="ga"/><use href="#m" x="305" class="myc"/><use href="#m" x="345" class="abre"/><use href="#m" x="392" class="carg"/></g>
<g id="r35" transform="translate(0,653.7)"><line class="ln" x1="40" x2="449"/><text class="rl" x="38" y="2.7">CdXTH35</text><use href="#m" x="51" class="myc"/><use href="#m" x="62" class="erf3"/><use href="#m" x="93.3" class="hd"/><use href="#m" x="112.7" class="dof"/><use href="#m" x="123.7" class="carg"/><use href="#m" x="147.3" class="aux"/><use href="#m" x="168.3" class="arf"/><use href="#m" x="202.7" class="abre"/><use href="#m" x="252" class="hd"/><use href="#m" x="300" class="myc"/><use href="#m" x="340" class="carg"/><use href="#m" x="380" class="myb"/></g>
<g id="r36" transform="translate(0,664.3)"><line class="ln" x1="40" x2="449"/><text class="rl" x="38" y="2.7">CdXTH36</text><use href="#m" x="61.7" class="carg"/><use href="#m" x="80.3" class="erf3"/><use href="#m" x="102" class="arf"/><use href="#m" x="116" class="myc"/><use href="#m" x="140" class="dof"/><use href="#m" x="147" class="e2f"/><use href="#m" x="170" class="aux"/><use href="#m" x="186" class="erf"/><use href="#m" x="239.3" class="aux"/><use href="#m" x="262" class="pal"/><use href="#m" x="308" class="hd"/><use href="#m" x="350" class="ga"/></g>
<g id="r37" transform="translate(0,674.9)"><line class="ln" x1="40" x2="449"/><text class="rl" x="38" y="2.7">CdXTH37</text><use href="#m" x="50.3" class="dof"/><use href="#m" x="64" class="carg"/><use href="#m" x="82" class="erf3"/><use href="#m" x="99.3" class="hd"/><use href="#m" x="117.3" class="abre"/><use href="#m" x="169.3" class="pal"/><use href="#m" x="187.7" class="myc"/><use href="#m" x="220" class="ga"/><use href="#m" x="228.7" class="arf"/><use href="#m" x="258" class="aux"/><use href="#m" x="300" class="myb"/><use href="#m" x="340" class="carg"/><use href="#m" x="380" class="pal"/></g>
<g id="r38" transform="translate(0,685.5)"><line class="ln" x1="40" x2="449"/><text class="rl" x="38" y="2.7">CdXTH38</text><use href="#m" x="47" class="abi"/><use href="#m" x="92.3" class="dof"/><use href="#m" x="105.7" class="arf"/><use href="#m" x="143.3" class="myc"/><use href="#m" x="155" class="erf3"/><use href="#m" x="176.3" class="abre"/><use href="#m" x="231.3" class="hd"/><use href="#m" x="260" class="myc"/><use href="#m" x="293" class="erf"/><use href="#m" x="340" class="aux"/><use href="#m" x="392" class="ga"/></g>
<g id="axis">
<line x1="40" y1="698" x2="460" y2="698" stroke="#555" stroke-width="0.8"/>
<path d="M40 698v2.5M100 698v2.5M160 698v2.5M220 698v2.5M280 698v2.5M340 698v2.5M400 698v2.5M460 698v2.5" stroke="#555" stroke-width="0.8"/>
<text class="ax" x="35" y="697" style="font-size:6.5px">5'</text><text class="ax" x="458" y="697" style="font-size:6.5px">3'</text>
<text class="ax" x="40" y="708.5">0</text><text class="ax" x="100" y="708.5">300</text><text class="ax" x="160" y="708.5">600</text><text class="ax" x="220" y="708.5">900</text><text class="ax" x="280" y="708.5">1200</text><text class="ax" x="340" y="708.5">1500</text><text class="ax" x="400" y="708.5">1800</text><text class="ax" x="460" y="708.5">2100</text>
</g>
</g>

<g id="legend">
<rect x="467" y="287" width="81" height="211" fill="none" stroke="#e6e6e6" stroke-width="0.8"/>
<rect x="471" y="295.2" width="27.5" height="5" rx="2.5" class="dof"/><text class="lg" x="503" y="300.5">Dof</text>
<rect x="471" y="305.7" width="27.5" height="5" rx="2.5" class="ry"/><text class="lg" x="503" y="311">RY motif/GA</text>
<rect x="471" y="316.2" width="27.5" height="5" rx="2.5" class="myc"/><text class="lg" x="503" y="321.5">MYC/ABA</text>
<rect x="471" y="326.7" width="27.5" height="5" rx="2.5" class="arf"/><text class="lg" x="503" y="332">ARF</text>
<rect x="471" y="337.2" width="27.5" height="5" rx="2.5" class="aux"/><text class="lg" x="503" y="342.5">auxin</text>
<rect x="471" y="347.7" width="27.5" height="5" rx="2.5" class="erf3"/><text class="lg" x="503" y="353">ERF3</text>
<rect x="471" y="358.2" width="27.5" height="5" rx="2.5" class="ga"/><text class="lg" x="503" y="363.5">GA</text>
<rect x="471" y="368.7" width="27.5" height="5" rx="2.5" class="hd"/><text class="lg" x="503" y="374">HD</text>
<rect x="471" y="379.2" width="27.5" height="5" rx="2.5" class="abi"/><text class="lg" x="503" y="384.5">bZIP/ABI5</text>
<rect x="471" y="389.7" width="27.5" height="5" rx="2.5" class="aba"/><text class="lg" x="503" y="395">ABA</text>
<rect x="471" y="400.2" width="27.5" height="5" rx="2.5" class="carg"/><text class="lg" x="503" y="405.5">CArG</text>
<rect x="471" y="410.7" width="27.5" height="5" rx="2.5" class="abre"/><text class="lg" x="503" y="416">ABRE</text>
<rect x="471" y="421.2" width="27.5" height="5" rx="2.5" class="berf"/><text class="lg" x="503" y="426.5">bZIP/ERF</text>
<rect x="471" y="431.7" width="27.5" height="5" rx="2.5" class="pal"/><text class="lg" x="503" y="437">MYB_PAL</text>
<rect x="471" y="442.2" width="27.5" height="5" rx="2.5" class="myb"/><text class="lg" x="503" y="447.5">MYB</text>
<rect x="471" y="452.7" width="27.5" height="5" rx="2.5" class="athb"/><text class="lg" x="503" y="458">ATHB-2</text>
<rect x="471" y="463.2" width="27.5" height="5" rx="2.5" class="e2f"/><text class="lg" x="503" y="468.5">E2F</text>
<rect x="471" y="473.7" width="27.5" height="5" rx="2.5" class="sug"/><text class="lg" x="503" y="479">sugar/ABA</text>
<rect x="471" y="484.2" width="27.5" height="5" rx="2.5" class="erf"/><text class="lg" x="503" y="489.5">ERF</text>
</g>
</svg>
